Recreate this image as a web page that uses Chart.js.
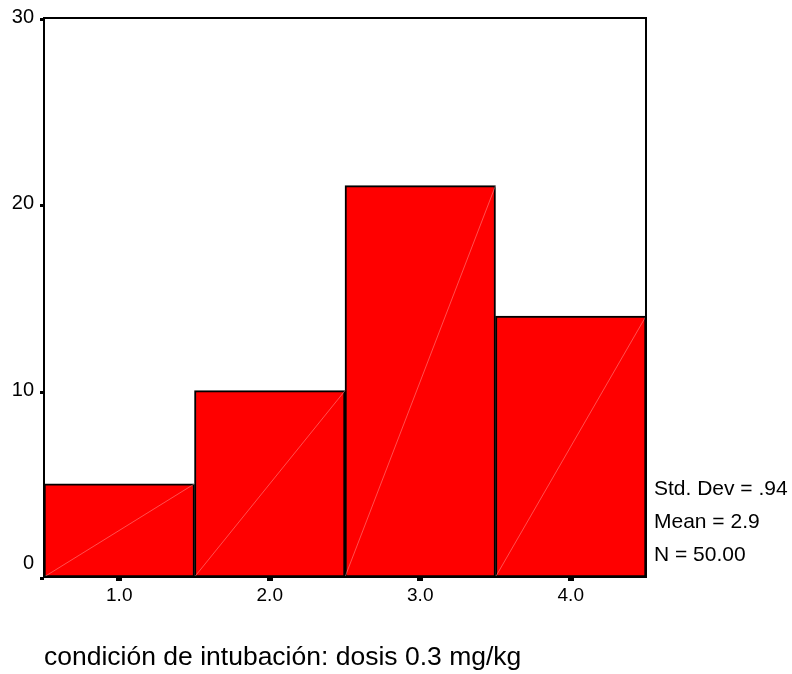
<!DOCTYPE html>
<html>
<head>
<meta charset="utf-8">
<script src="https://cdn.jsdelivr.net/npm/chart.js"></script>
<style>
  html, body { margin: 0; padding: 0; background: #fff; }
  #wrap { width: 792px; height: 674px; }
</style>
</head>
<body>
<div id="wrap"><canvas id="hist"></canvas></div>
<script>
// histogram bins and counts
const binLabels = ['1.0', '2.0', '3.0', '4.0'];
const counts = [5, 10, 21, 14];
const yTicks = [0, 10, 20, 30];
const statLines = ['Std. Dev = .94', 'Mean = 2.9', 'N = 50.00'];
const caption = 'condición de intubación: dosis 0.3 mg/kg';

const FONT = 'Arial, "Liberation Sans", sans-serif';

// frame, tick stubs, y labels, diagonal strokes in the bars, stats and caption
const spssDecor = {
  id: 'spssDecor',
  afterDatasetsDraw(chart) {
    const ctx = chart.ctx;
    const area = chart.chartArea;
    const xs = chart.scales.x, ys = chart.scales.y;
    const meta = chart.getDatasetMeta(0);
    ctx.save();

    // faint diagonal inside each bar
    ctx.strokeStyle = 'rgba(255,190,190,0.7)';
    ctx.lineWidth = 0.6;
    meta.data.forEach(bar => {
      const half = bar.width / 2;
      ctx.beginPath();
      ctx.moveTo(bar.x - half, bar.base);
      ctx.lineTo(bar.x + half, bar.y);
      ctx.stroke();
    });

    // plot frame
    ctx.strokeStyle = '#000';
    ctx.lineWidth = 2;
    ctx.strokeRect(area.left, area.top, area.right - area.left, area.bottom - area.top);

    // tick stubs and y labels (the zero label sits above the corner)
    ctx.fillStyle = '#000';
    ctx.font = '20px ' + FONT;
    ctx.textAlign = 'right';
    ctx.textBaseline = 'middle';
    yTicks.forEach(v => {
      const py = Math.round(ys.getPixelForValue(v));
      ctx.fillRect(area.left - 4, py, 4, 3);
      ctx.fillText(String(v), area.left - 10, Math.min(py - 1, area.bottom - 14));
    });
    binLabels.forEach((l, i) => {
      const px = Math.round(xs.getPixelForValue(i));
      ctx.fillRect(px - 3, area.bottom + 1, 6, 3);
    });

    // stats block
    ctx.font = '21px ' + FONT;
    ctx.textAlign = 'left';
    statLines.forEach((s, i) => {
      ctx.fillText(s, area.right + 8, 489 + i * 33);
    });

    // caption
    ctx.font = '26.5px ' + FONT;
    ctx.fillText(caption, area.left, 658);
    ctx.restore();
  }
};

new Chart(document.getElementById('hist'), {
  type: 'bar',
  data: {
    labels: binLabels,
    datasets: [{
      data: counts,
      backgroundColor: '#ff0000',
      borderColor: '#000',
      borderWidth: 2,
      borderSkipped: false,
      barPercentage: 1,
      categoryPercentage: 1
    }]
  },
  options: {
    responsive: true,
    maintainAspectRatio: false,
    animation: false,
    devicePixelRatio: 1,
    layout: { padding: { left: 0, top: 18, right: 146, bottom: 0 } },
    plugins: {
      legend: { display: false },
      tooltip: { enabled: false }
    },
    scales: {
      x: {
        grid: { display: false, drawTicks: false },
        border: { display: false },
        ticks: { color: '#000', padding: 7, font: { family: FONT, size: 19 } },
        afterFit(scale) { scale.height = 97; }
      },
      y: {
        min: 0,
        max: 30,
        afterBuildTicks(scale) { scale.ticks = yTicks.map(v => ({ value: v })); },
        grid: { display: false, drawTicks: false },
        border: { display: false },
        ticks: { display: false },
        afterFit(scale) { scale.width = 44; }
      }
    }
  },
  plugins: [spssDecor]
});
</script>
</body>
</html>
